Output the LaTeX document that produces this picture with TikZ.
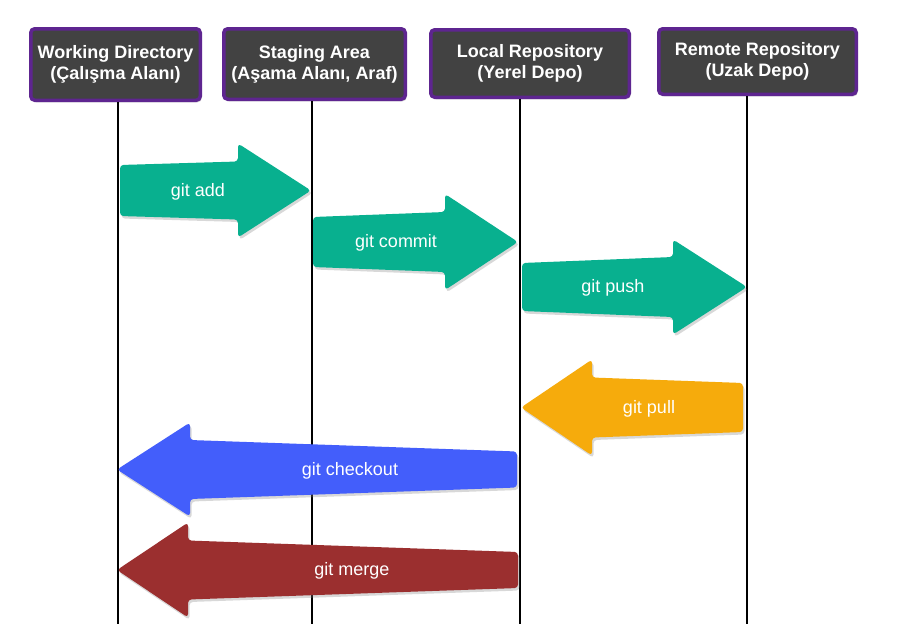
\documentclass[tikz,border=0pt]{standalone}
\usepackage{fontspec}
\setmainfont{Liberation Sans}
\usetikzlibrary{shadows}
\definecolor{teal1}{HTML}{08B08F}
\definecolor{orange1}{HTML}{F6AB0C}
\definecolor{blue1}{HTML}{435EFB}
\definecolor{red1}{HTML}{9B2F2F}
\definecolor{hdrfill}{HTML}{424242}
\definecolor{hdrline}{HTML}{5E2590}
\newcommand{\gitarrow}[8]{%
  \fill[#1, rounded corners=3.5pt, arrowshadow]
    ({#2},{#5-#6}) -- ({#3},{#5-#7}) -- ({#3},{#5-#8}) -- ({#4},{#5})
    -- ({#3},{#5+#8}) -- ({#3},{#5+#7}) -- ({#2},{#5+#6}) -- cycle;}
\begin{document}
\begin{tikzpicture}[x=1pt,y=-1pt,
  hdr/.style={draw=hdrline, fill=hdrfill, line width=3.5pt, rounded corners=4pt,
    text=white, font=\fontsize{18}{21}\selectfont\bfseries, align=center,
    inner sep=0pt, drop shadow={opacity=0.35, shadow xshift=1.5pt, shadow yshift=-2pt}},
  arrowshadow/.style={drop shadow={opacity=0.3, shadow xshift=1.5pt, shadow yshift=-2.5pt}},
  lane/.style={line width=1.6pt, black},
  lbl/.style={text=white, font=\fontsize{18}{21}\selectfont, inner sep=0pt}]
\useasboundingbox (0,0) rectangle (901,627);
\fill[white] (0,0) rectangle (901,627);
% headers
\node[hdr, minimum width=169.5pt, minimum height=71.5pt] (wd) at (115.5,64.5) {Working Directory\\(Çalışma Alanı)};
\node[hdr, minimum width=181.5pt, minimum height=70.5pt] (sa) at (314.5,64) {Staging Area\\(Aşama Alanı, Araf)};
\node[hdr, minimum width=198.5pt, minimum height=67.5pt] (lr) at (530,63.5) {Local Repository\\(Yerel Depo)};
\node[hdr, minimum width=197.5pt, minimum height=65.5pt] (rr) at (757.5,61.5) {Remote Repository\\(Uzak Depo)};
% lane ends
\coordinate (wdb) at (118,624);
\coordinate (sab) at (312,624);
\coordinate (lrb) at (520,624);
\coordinate (rrb) at (747,624);
\draw[lane] (wd.south -| wdb) -- (wdb);
\draw[lane] (sa.south -| sab) -- (sab);
\draw[lane] (lr.south -| lrb) -- (lrb);
\draw[lane] (rr.south -| rrb) -- (rrb);
% arrows
\gitarrow{teal1}{120}{238}{311}{190.5}{25.5}{29}{47}
\gitarrow{teal1}{313}{445}{518}{242}{25}{30}{48}
\gitarrow{teal1}{522}{673}{747}{287}{24}{30}{47.5}
\gitarrow{orange1}{743}{592}{521}{407.5}{24.5}{30}{48}
\gitarrow{blue1}{517}{190}{117}{469.5}{18}{29.5}{47}
\gitarrow{red1}{518}{188}{117}{570}{18}{29.5}{47.5}
% labels
\node[lbl] (add) at (198,192) {git add};
\node[lbl] (commit) at (396,243) {git commit};
\node[lbl] (push) at (613,288) {git push};
\node[lbl] (pull) at (649,409) {git pull};
\node[lbl] (checkout) at (350,471) {git checkout};
\node[lbl] (merge) at (352,571) {git merge};
\end{tikzpicture}
\end{document}
